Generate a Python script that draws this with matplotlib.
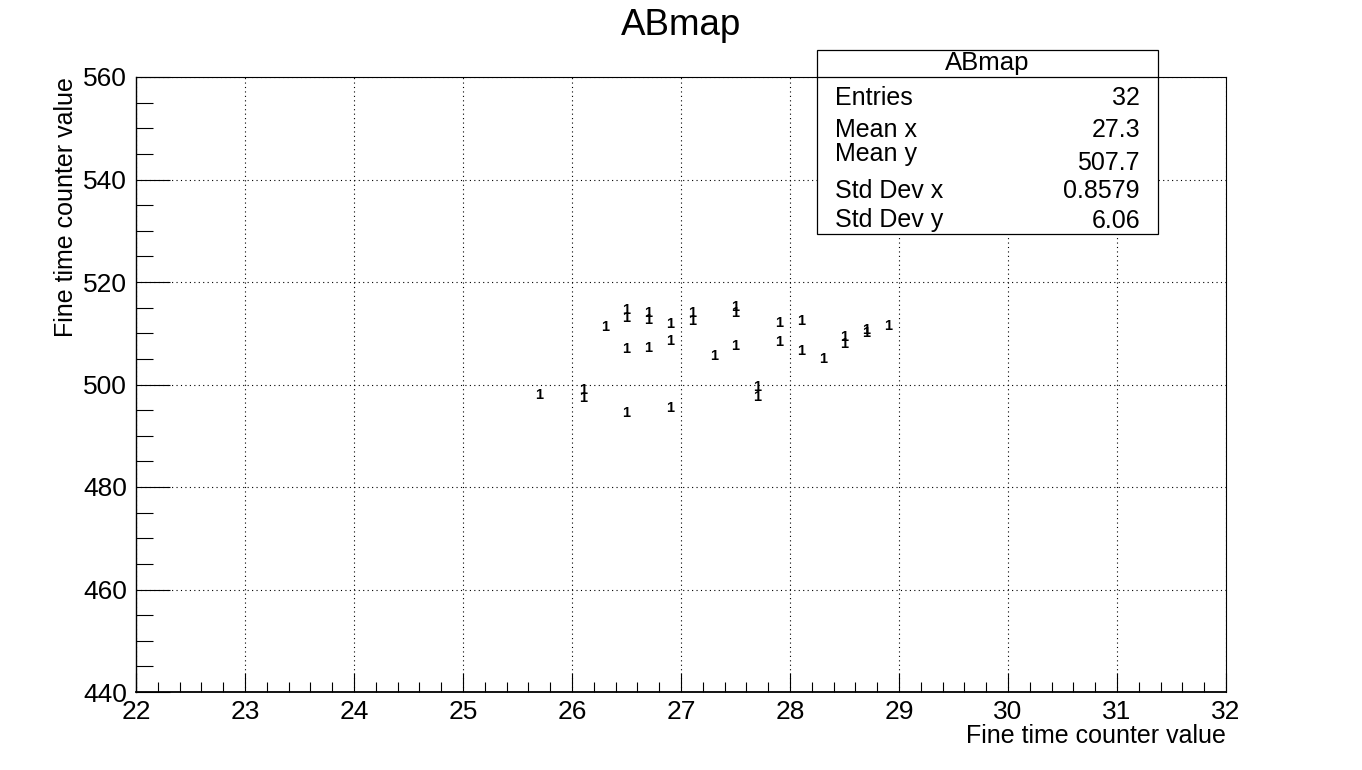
import matplotlib
matplotlib.use("Agg")
import matplotlib.pyplot as plt
from matplotlib.patches import Rectangle
from matplotlib.lines import Line2D
from matplotlib.ticker import MultipleLocator

plt.rcParams['font.family'] = ['Liberation Sans', 'DejaVu Sans']

# bin centres of the filled cells (TEXT draw of a 2D histogram)
x_centers = [25.7, 26.1, 26.1, 26.3, 26.5, 26.5, 26.5, 26.5, 26.7, 26.7, 26.7,
             26.9, 26.9, 26.9, 27.1, 27.1, 27.3, 27.5, 27.5, 27.5, 27.7, 27.7,
             27.9, 27.9, 28.1, 28.1, 28.3, 28.5, 28.5, 28.7, 28.7, 28.9]
y_centers = [498.0, 498.9, 497.4, 511.3, 514.6, 512.9, 506.9, 494.5, 514.0, 512.6, 507.1,
             511.8, 508.4, 495.35, 513.9, 512.3, 505.6, 515.2, 513.9, 507.5, 499.5, 497.6,
             512.0, 508.2, 512.3, 506.6, 505.0, 509.3, 508.0, 510.6, 510.0, 511.5]
counts = [1] * len(x_centers)

hist_name = "ABmap"
axis_title = "Fine time counter value"
stat_names = ["Entries", "Mean x", "Mean y", "Std Dev x", "Std Dev y"]
stat_values = ["32", "27.3", "507.7", "0.8579", "6.06"]

W, H = 1362, 770
fig = plt.figure(figsize=(W / 100, H / 100), dpi=100)
ax = fig.add_axes([136 / W, 1 - 692 / H, 1090 / W, 615 / H])

for x, y, c in zip(x_centers, y_centers, counts):
    ax.text(x, y, str(c), ha='center', va='center', fontsize=10.5,
            fontweight='bold', color='black')

ax.set_xlim(22, 32)
ax.set_ylim(440, 560)
ax.xaxis.set_major_locator(MultipleLocator(1))
ax.xaxis.set_minor_locator(MultipleLocator(0.2))
ax.yaxis.set_major_locator(MultipleLocator(20))
ax.yaxis.set_minor_locator(MultipleLocator(5))

ax.grid(True, which='major', color='black', linestyle=(0, (1, 3)), linewidth=0.8)
ax.tick_params(axis='x', which='major', direction='in', length=13.7, width=0.8,
               labelsize=19, pad=5.5, top=False)
ax.tick_params(axis='x', which='minor', direction='in', length=7, width=0.8, top=False)
ax.tick_params(axis='y', which='major', direction='in', length=24.5, width=0.8,
               labelsize=19, pad=6.5, right=False)
ax.tick_params(axis='y', which='minor', direction='in', length=12.2, width=0.8, right=False)
for sp in ax.spines.values():
    sp.set_linewidth(0.8)
ax.spines['bottom'].set_linewidth(1.3)
ax.spines['left'].set_linewidth(1.0)

# title and axis titles
fig.text(0.5, 1 - 35 / H, hist_name, ha='center', va='baseline', fontsize=26.5)
fig.text(1226 / W, 1 - 743 / H, axis_title, ha='right', va='baseline', fontsize=18)
fig.text(73 / W, 1 - 77 / H, axis_title, ha='right', va='baseline', fontsize=18,
         rotation=90, rotation_mode='anchor')

# stats box
bx0, by0, bx1, by1 = 817, 50, 1158, 234
fig.patches.append(Rectangle((bx0 / W, 1 - by1 / H), (bx1 - bx0) / W, (by1 - by0) / H,
                             transform=fig.transFigure, facecolor='white',
                             edgecolor='black', linewidth=0.9, zorder=5))
fig.lines.append(Line2D([bx0 / W, bx1 / W], [1 - 77 / H, 1 - 77 / H],
                        transform=fig.transFigure, color='black', linewidth=0.9, zorder=6))
fig.text((bx0 + bx1) / 2 / W, 1 - 70 / H, hist_name, ha='center', va='baseline',
         fontsize=18.5, zorder=7)
label_base = [105, 136.7, 160.7, 197.7, 226.7]
value_base = [105, 136.7, 170, 197.7, 228.3]
for name, val, yl, yv in zip(stat_names, stat_values, label_base, value_base):
    fig.text(835 / W, 1 - yl / H, name, ha='left', va='baseline', fontsize=18, zorder=7)
    fig.text(1140 / W, 1 - yv / H, val, ha='right', va='baseline', fontsize=18, zorder=7)

fig.savefig("out.png", dpi=100)
